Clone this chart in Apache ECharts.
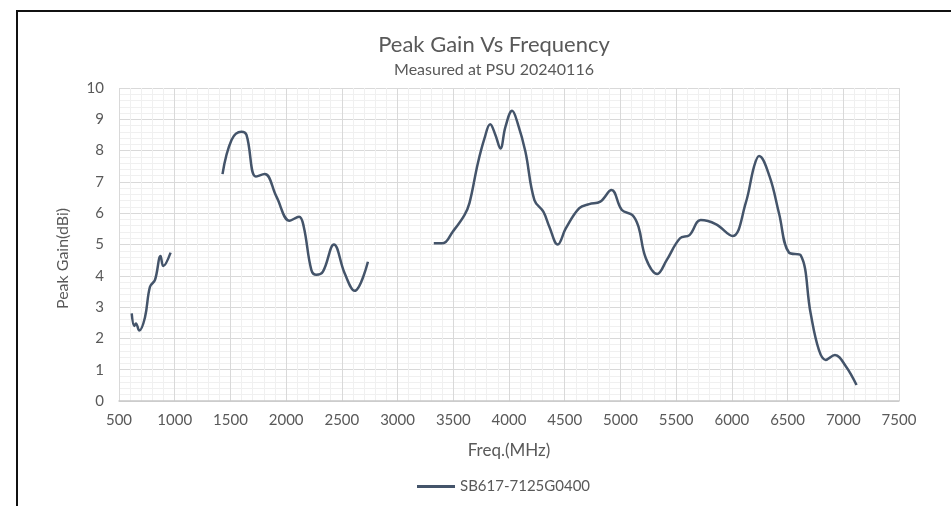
<!DOCTYPE html>
<html>
<head>
<meta charset="utf-8">
<script src="https://cdn.jsdelivr.net/npm/echarts@6/dist/echarts.min.js"></script>
<style>
  html, body { margin: 0; padding: 0; background: #fff; }
  #chart { width: 951px; height: 506px; }
</style>
</head>
<body>
<div id="chart"></div>
<script>
// 读图得到的测量点 (MHz, dBi)，三段之间断开
const seriesName = 'SB617-7125G0400'
const band1 = [
  [614, 2.8], [637, 2.4], [652, 2.48], [682, 2.25], [733, 2.67], [778, 3.65],
  [823, 3.87], [873, 4.63], [897, 4.31], [963, 4.74]
]
const band2 = [
  [1429, 7.25], [1510, 8.34], [1599, 8.6], [1644, 8.5], [1728, 7.17], [1808, 7.25],
  [1913, 6.53], [2032, 5.76], [2116, 5.89], [2158, 5.57], [2226, 4.19], [2271, 4.03],
  [2330, 4.13], [2429, 5.0], [2525, 4.08], [2615, 3.52], [2734, 4.45]
]
const band3 = [
  [3325, 5.04], [3406, 5.04], [3495, 5.41], [3600, 5.94], [3645, 6.32], [3720, 7.59],
  [3780, 8.39], [3831, 8.84], [3878, 8.5], [3923, 8.07], [3968, 8.76], [4028, 9.27],
  [4078, 8.87], [4147, 7.97], [4228, 6.42], [4308, 6.05], [4362, 5.57], [4437, 5.0],
  [4511, 5.52], [4631, 6.16], [4720, 6.29], [4819, 6.37], [4920, 6.74], [5013, 6.1],
  [5108, 5.94], [5162, 5.57], [5228, 4.56], [5330, 4.06], [5415, 4.5], [5535, 5.2],
  [5620, 5.3], [5720, 5.78], [5855, 5.65], [6005, 5.27], [6124, 6.32], [6199, 7.49],
  [6244, 7.83], [6339, 7.17], [6423, 6.0], [6513, 4.74], [6617, 4.66], [6707, 2.8],
  [6781, 1.63], [6841, 1.31], [6925, 1.47], [7021, 1.12], [7119, 0.51]
]
const gaps = [[1200, '-'], [3000, '-']]

const textColor = '#595959'
const font = 'Lato, "Open Sans", sans-serif'

const data = [...band1, gaps[0], ...band2, gaps[1], ...band3]

const chart = echarts.init(document.getElementById('chart'))

const option = {
  animation: false,
  textStyle: { fontFamily: font },
  title: {
    text: 'Peak Gain Vs Frequency',
    subtext: 'Measured at PSU 20240116',
    left: 489,
    textAlign: 'center',
    top: 29,
    itemGap: 6,
    textStyle: { color: textColor, fontSize: 22, fontWeight: 'normal', fontFamily: font },
    subtextStyle: { color: textColor, fontSize: 16, fontFamily: font }
  },
  legend: {
    data: [{ name: seriesName, icon: 'rect' }],
    bottom: 7,
    left: 412,
    itemWidth: 38,
    itemHeight: 3,
    textStyle: { color: textColor, fontSize: 15, fontFamily: font }
  },
  grid: {
    left: 119,
    right: 52,
    top: 88,
    bottom: 105
  },
  xAxis: {
    type: 'value',
    min: 500,
    max: 7500,
    interval: 500,
    name: 'Freq.(MHz)',
    nameLocation: 'middle',
    nameGap: 41,
    nameTextStyle: { color: textColor, fontSize: 17, fontFamily: font },
    axisLine: { show: true, lineStyle: { color: '#c8c8c8', width: 1.5 } },
    axisTick: { show: false },
    axisLabel: {
      color: textColor, fontSize: 15, margin: 12, fontFamily: font,
      formatter: (v) => String(v)
    },
    splitLine: { show: true, lineStyle: { color: '#d9d9d9', width: 1 } },
    minorTick: { show: false, splitNumber: 5 },
    minorSplitLine: { show: true, lineStyle: { color: '#f0f0f0', width: 1 } }
  },
  yAxis: {
    type: 'value',
    min: 0,
    max: 10,
    interval: 1,
    name: 'Peak Gain(dBi)',
    nameLocation: 'middle',
    nameGap: 48,
    nameTextStyle: { color: textColor, fontSize: 16, fontFamily: font, padding: [0, 28, 0, 0] },
    axisLine: { show: false },
    axisTick: { show: false },
    axisLabel: { color: textColor, fontSize: 15, margin: 15, fontFamily: font },
    splitLine: { show: true, lineStyle: { color: '#d9d9d9', width: 1 } },
    minorTick: { show: false, splitNumber: 5 },
    minorSplitLine: { show: true, lineStyle: { color: '#f0f0f0', width: 1 } }
  },
  series: [
    {
      name: seriesName,
      type: 'line',
      data: data,
      smooth: 0.4,
      symbol: 'none',
      connectNulls: false,
      lineStyle: { color: '#44546a', width: 2.5 },
      itemStyle: { color: '#44546a' }
    }
  ],
  graphic: [
    {
      type: 'rect',
      shape: { x: 17, y: 11, width: 960, height: 520 },
      style: { fill: 'none', stroke: '#111', lineWidth: 2 },
      silent: true
    }
  ]
}

chart.setOption(option)
</script>
</body>
</html>
